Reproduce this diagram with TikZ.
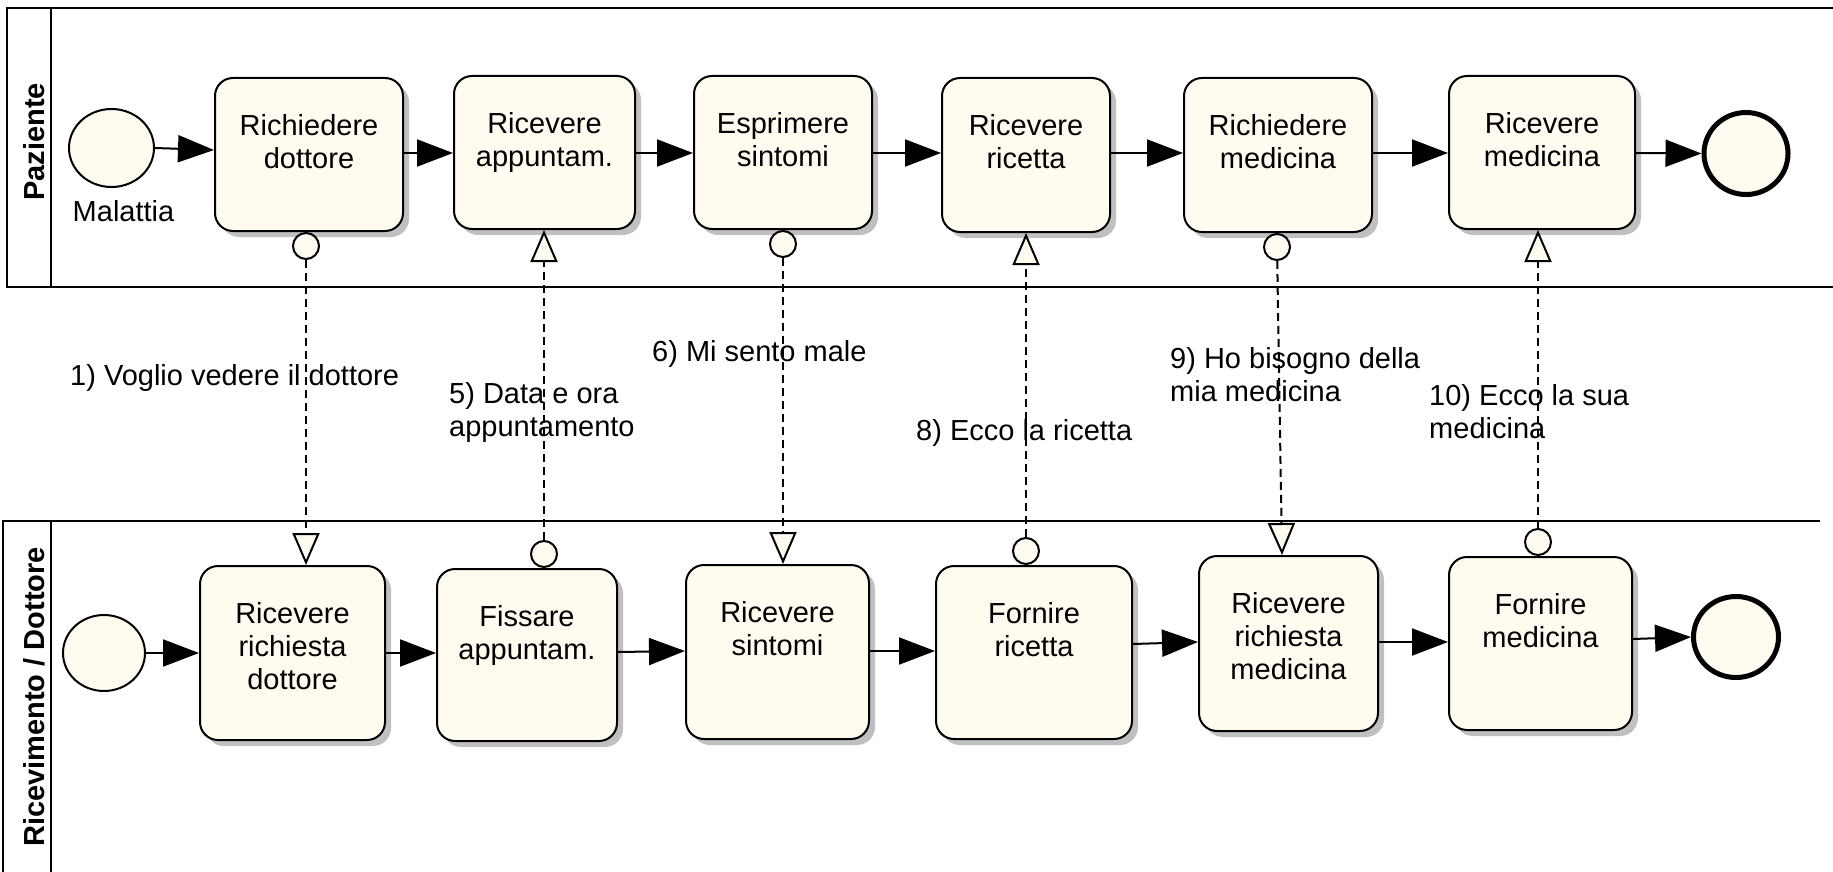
\documentclass[tikz,border=0pt]{standalone}
\usepackage{fontspec}
\setmainfont{Liberation Sans}
\usetikzlibrary{arrows.meta,shapes.geometric,shadows}
\definecolor{cream}{RGB}{255,251,240}
\definecolor{shadowgray}{RGB}{192,192,192}
\begin{document}
\begin{tikzpicture}[x=1pt,y=-1pt,
  txt/.style={font=\fontsize{29pt}{33pt}\selectfont},
  task/.style={draw, line width=2pt, fill=cream, rounded corners=18pt, inner sep=0pt,
    drop shadow={shadow xshift=6pt, shadow yshift=-6pt, fill=shadowgray, opacity=1}},
  tasktext/.style={txt, align=center, anchor=north, inner sep=0pt},
  ev/.style={ellipse, draw, line width=2pt, fill=cream, inner sep=0pt},
  endev/.style={ev, line width=5pt},
  flow/.style={line width=2pt, -{Triangle[length=36pt,width=27pt]}},
  msg/.style={line width=2pt, dash pattern=on 8pt off 5pt, -{Triangle[length=32pt,width=27pt,fill=cream]}},
  msgc/.style={circle, draw, line width=2pt, fill=cream, minimum size=26pt, inner sep=0pt},
  lane/.style={line width=2.5pt},
  lanetext/.style={font=\bfseries\fontsize{29pt}{33pt}\selectfont, rotate=90, inner sep=0pt},
  msgtext/.style={txt, align=left, anchor=north west, inner sep=0pt}
]
\useasboundingbox (0,0) rectangle (1833,872);
\fill[white] (0,0) rectangle (1833,872);

% lanes
\draw[lane] (1833,8) -- (7,8) -- (7,287) -- (1833,287);
\draw[lane] (51,8) -- (51,287);
\draw[lane] (1820,521) -- (3,521) -- (3,872);
\draw[lane] (51,521) -- (51,872);
\node[lanetext] (lp) at (34,142) {Paziente};
\node[lanetext] (lr) at (34,697) {Ricevimento / Dottore};

% top lane
\node[ev, minimum width=85pt, minimum height=78pt] (s1) at (111.5,148) {};
\node[txt, anchor=base, inner sep=0pt] (mal) at (123.5,221) {Malattia};
\node[task, minimum width=188pt, minimum height=153pt] (t1) at (309,154.5) {};
\node[task, minimum width=181pt, minimum height=153pt] (t2) at (544.5,152.5) {};
\node[task, minimum width=178pt, minimum height=153pt] (t3) at (783,152.5) {};
\node[task, minimum width=168pt, minimum height=154pt] (t4) at (1026,155) {};
\node[task, minimum width=188pt, minimum height=154pt] (t5) at (1278,155) {};
\node[task, minimum width=186pt, minimum height=153pt] (t6) at (1542,152.5) {};
\node[endev, minimum width=84pt, minimum height=82pt] (e1) at (1746,153.5) {};

\node[tasktext] (t1t) at ([yshift=-37pt]t1.north) {Richiedere\\dottore};
\node[tasktext] (t2t) at ([yshift=-37pt]t2.north) {Ricevere\\appuntam.};
\node[tasktext] (t3t) at ([yshift=-37pt]t3.north) {Esprimere\\sintomi};
\node[tasktext] (t4t) at ([yshift=-37pt]t4.north) {Ricevere\\ricetta};
\node[tasktext] (t5t) at ([yshift=-37pt]t5.north) {Richiedere\\medicina};
\node[tasktext] (t6t) at ([yshift=-37pt]t6.north) {Ricevere\\medicina};

% bottom lane
\node[ev, minimum width=82pt, minimum height=76pt] (s2) at (104,653) {};
\node[task, minimum width=185pt, minimum height=174pt] (b1) at (292.5,653) {};
\node[task, minimum width=180pt, minimum height=172pt] (b2) at (527,655) {};
\node[task, minimum width=183pt, minimum height=174pt] (b3) at (777.5,652) {};
\node[task, minimum width=196pt, minimum height=173pt] (b4) at (1034,652.5) {};
\node[task, minimum width=179pt, minimum height=175pt] (b5) at (1288.5,643.5) {};
\node[task, minimum width=183pt, minimum height=173pt] (b6) at (1540.5,643.5) {};
\node[endev, minimum width=85pt, minimum height=81pt] (e2) at (1736,637) {};

\node[tasktext] (b1t) at ([yshift=-37pt]b1.north) {Ricevere\\richiesta\\dottore};
\node[tasktext] (b2t) at ([yshift=-37pt]b2.north) {Fissare\\appuntam.};
\node[tasktext] (b3t) at ([yshift=-37pt]b3.north) {Ricevere\\sintomi};
\node[tasktext] (b4t) at ([yshift=-37pt]b4.north) {Fornire\\ricetta};
\node[tasktext] (b5t) at ([yshift=-37pt]b5.north) {Ricevere\\richiesta\\medicina};
\node[tasktext] (b6t) at ([yshift=-37pt]b6.north) {Fornire\\medicina};

% sequence flows
\draw[flow] (s1.east) -- (t1.west |- 0,150);
\draw[flow] (t1.east |- 0,153) -- (t2.west |- 0,153);
\draw[flow] (t2.east |- 0,153) -- (t3.west |- 0,153);
\draw[flow] (t3.east |- 0,153) -- (t4.west |- 0,153);
\draw[flow] (t4.east |- 0,153) -- (t5.west |- 0,153);
\draw[flow] (t5.east |- 0,153) -- (t6.west |- 0,153);
\draw[flow] (t6.east |- 0,153) -- (e1.west);

\draw[flow] (s2.east) -- (b1.west |- 0,653);
\draw[flow] (b1.east |- 0,653) -- (b2.west |- 0,653);
\draw[flow] (b2.east |- 0,652) -- (b3.west |- 0,651);
\draw[flow] (b3.east |- 0,651) -- (b4.west |- 0,651);
\draw[flow] (b4.east |- 0,644) -- (b5.west |- 0,642);
\draw[flow] (b5.east |- 0,642) -- (b6.west |- 0,642);
\draw[flow] (b6.east |- 0,639) -- (e2.west);

% message flows
\node[msgc, anchor=north] (c1) at (306,0 |- t1.south) {};
\draw[msg] (c1) -- (c1 |- b1.north);
\node[msgc, anchor=south] (c5) at (544,0 |- b2.north) {};
\draw[msg] (c5) -- (c5 |- t2.south);
\node[msgc, anchor=north] (c6) at (783,0 |- t3.south) {};
\draw[msg] (c6) -- (c6 |- b3.north);
\node[msgc, anchor=south] (c8) at (1026,0 |- b4.north) {};
\draw[msg] (c8) -- (c8 |- t4.south);
\node[msgc, anchor=north] (c9) at (1277,0 |- t5.south) {};
\coordinate (m9end) at (1282,0 |- b5.north);
\draw[msg] (c9) -- (m9end);
\node[msgc, anchor=south] (c10) at (1538,0 |- b6.north) {};
\draw[msg] (c10) -- (c10 |- t6.south);

% message labels
\node[msgtext] (l1) at (70,364) {1) Voglio vedere il dottore};
\node[msgtext] (l5) at (449,382) {5) Data e ora\\appuntamento};
\node[msgtext] (l6) at (652,340) {6) Mi sento male};
\node[msgtext] (l8) at (916,419) {8) Ecco la ricetta};
\node[msgtext] (l9) at (1170,347) {9) Ho bisogno della\\mia medicina};
\node[msgtext] (l10) at (1429,384) {10) Ecco la sua\\medicina};
\end{tikzpicture}
\end{document}
